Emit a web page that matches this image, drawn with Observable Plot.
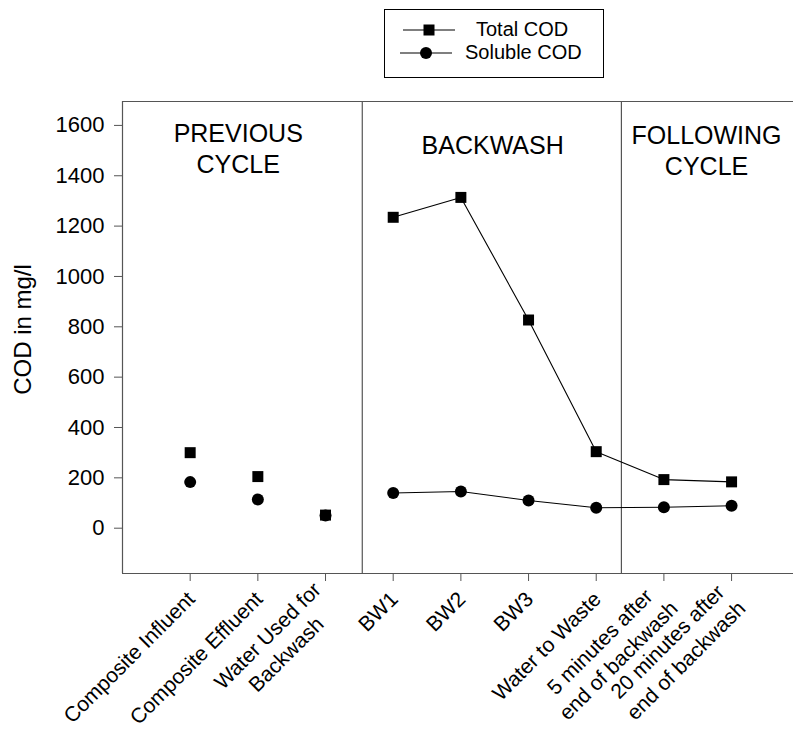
<!DOCTYPE html>
<html><head><meta charset="utf-8">
<script src="https://cdn.jsdelivr.net/npm/d3@7"></script>
<script src="https://cdn.jsdelivr.net/npm/@observablehq/plot@0.6"></script>
<style>
body{margin:0;background:#fff;font-family:"Liberation Sans",Arial,sans-serif;}
#wrap{position:relative;width:793px;height:731px;overflow:hidden;}
#legend{position:absolute;left:384px;top:9px;width:218px;height:67px;border:1px solid #000;background:#fff;}
#legend .row{position:absolute;left:0;height:20px;display:flex;align-items:center;}
#legend .row span{font-size:20px;color:#000;white-space:nowrap;}
</style></head><body><div id="wrap"><div id="legend"></div></div>
<script>
// ---- data ----
const categories = [
  "Composite Influent",
  "Composite Effluent",
  "Water Used for\nBackwash",
  "BW1",
  "BW2",
  "BW3",
  "Water to Waste",
  "5 minutes after\nend of backwash",
  "20 minutes after\nend of backwash"
];
const seriesNames = ["Total COD", "Soluble COD"];
const totalCOD   = [300, 205, 52, 1235, 1314, 827, 304, 193, 184];
const solubleCOD = [183, 114, 50, 140, 146, 110, 81, 83, 89];
const firstConnected = 3; // lines join BW1 .. end
const yTicks = [0, 200, 400, 600, 800, 1000, 1200, 1400, 1600];
const sectionLabels = ["PREVIOUS\nCYCLE", "BACKWASH", "FOLLOWING\nCYCLE"];
const sectionX = [1.71, 5.47, 8.63];
const sectionY = [1620, 1574, 1612];
const dividerX = [3.543, 7.372];
const xDomain = [0, 9.915];
const yDomain = [-180, 1695];

// ---- build ----
const rows = categories.map((c, i) => ({x: i + 1, total: totalCOD[i], soluble: solubleCOD[i], i}));
const connected = rows.filter(d => d.i >= firstConnected);
const sections = sectionLabels.map((t, i) => ({t, x: sectionX[i], y: sectionY[i]}));
const frameColor = "#555";

const chart = Plot.plot({
  width: 793,
  height: 731,
  marginTop: 101,
  marginBottom: 158,
  marginLeft: 122,
  marginRight: 0,
  style: {fontFamily: "'Liberation Sans', Arial, sans-serif", fontSize: "21px", background: "transparent"},
  x: {domain: xDomain, label: null},
  y: {domain: yDomain, label: null},
  marks: [
    Plot.ruleX(dividerX, {stroke: frameColor, strokeWidth: 1.2}),
    Plot.ruleX([xDomain[0]], {stroke: frameColor, strokeWidth: 1.2}),
    Plot.ruleY([yDomain[0], yDomain[1]], {stroke: frameColor, strokeWidth: 1.2}),
    Plot.line(connected, {x: "x", y: "total", stroke: "#000", strokeWidth: 1.1}),
    Plot.line(connected, {x: "x", y: "soluble", stroke: "#000", strokeWidth: 1.1}),
    Plot.dot(rows, {x: "x", y: "soluble", symbol: "circle", r: 6, fill: "#000", stroke: "none"}),
    Plot.dot(rows, {x: "x", y: "total", symbol: "square", r: 6.2, fill: "#000", stroke: "none"}),
    Plot.axisY({ticks: yTicks, tickFormat: d => String(d), tickSize: 8, tickPadding: 10,
      stroke: frameColor, fill: "#000", fontSize: 22, label: null}),
    Plot.axisX({ticks: d3.range(1, categories.length + 1), tickFormat: i => categories[i - 1],
      tickRotate: -45, tickSize: 8, tickPadding: 13, lineHeight: 1.25, stroke: frameColor, fill: "#000", fontSize: 21, label: null}),
    Plot.text(sections, {x: "x", y: "y", text: "t", fontSize: 25, lineAnchor: "top", lineHeight: 1.22, fill: "#000"}),
    Plot.text(["COD in mg/l"], {frameAnchor: "left", textAnchor: "middle", rotate: -90, dx: -99, dy: -8, fontSize: 24, fill: "#000"})
  ]
});
document.getElementById("wrap").prepend(chart);

// centre the lines of multi-line rotated tick labels
const xLabelGroup = chart.querySelector('g[aria-label="x-axis tick label"]');
if (xLabelGroup) {
  xLabelGroup.querySelectorAll("text").forEach(t => {
    const spans = t.querySelectorAll("tspan");
    if (spans.length > 1) {
      const w = Array.from(spans, s => s.getComputedTextLength());
      const W = Math.max(...w);
      spans.forEach((s, k) => s.setAttribute("x", String(-(W - w[k]) / 2)));
    }
  });
}

// legend
const legend = document.getElementById("legend");
const legendRows = [
  {name: seriesNames[0], symbol: "square", top: 10, lineLeft: 18, textLeft: 91},
  {name: seriesNames[1], symbol: "circle", top: 33, lineLeft: 15, textLeft: 80}
];
legendRows.forEach(r => {
  const row = document.createElement("div");
  row.className = "row";
  row.style.top = r.top + "px";
  const svg = d3.create("svg").attr("width", 52).attr("height", 20)
    .style("position", "absolute").style("left", r.lineLeft + "px").style("top", "0px");
  svg.append("line").attr("x1", 0).attr("x2", 52).attr("y1", 10).attr("y2", 10).attr("stroke", "#000").attr("stroke-width", 1.1);
  if (r.symbol === "square") svg.append("rect").attr("x", 20.5).attr("y", 4.5).attr("width", 11).attr("height", 11).attr("fill", "#000");
  else svg.append("circle").attr("cx", 26).attr("cy", 10).attr("r", 6).attr("fill", "#000");
  row.appendChild(svg.node());
  const span = document.createElement("span");
  span.textContent = r.name;
  span.style.position = "absolute";
  span.style.left = r.textLeft + "px";
  span.style.top = "-2px";
  row.appendChild(span);
  legend.appendChild(row);
});
</script>
</body></html>
